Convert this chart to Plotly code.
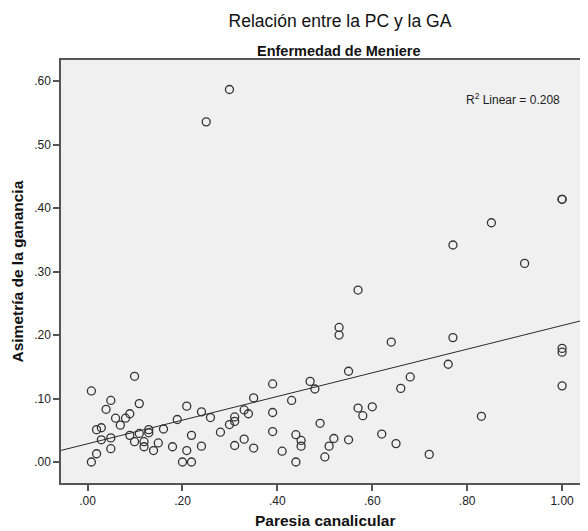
import numpy as np
import plotly.graph_objects as go

# Paresia canalicular (x) and Asimetría de la ganancia (y)
pc = [0.250, 0.299, 1.000, 1.000, 0.851, 0.770, 0.921, 0.570, 0.530, 0.530, 0.640,
      0.770, 1.000, 1.000, 0.760, 0.550, 0.680, 0.469, 0.479, 0.660, 1.000, 0.570,
      0.600, 0.580, 0.830, 0.490, 0.620, 0.519, 0.550, 0.509, 0.650, 0.500, 0.720,
      0.008, 0.099, 0.049, 0.109, 0.039, 0.089, 0.059, 0.080, 0.069, 0.029, 0.019,
      0.029, 0.049, 0.049, 0.019, 0.008, 0.089, 0.099, 0.109, 0.119, 0.119, 0.129,
      0.129, 0.139, 0.149, 0.160, 0.179, 0.189, 0.209, 0.209, 0.219, 0.200, 0.219,
      0.240, 0.240, 0.259, 0.280, 0.299, 0.310, 0.310, 0.310, 0.330, 0.330, 0.339,
      0.350, 0.350, 0.390, 0.390, 0.390, 0.410, 0.430, 0.439, 0.450, 0.450, 0.439]
ga = [0.536, 0.587, 0.414, 0.414, 0.377, 0.342, 0.313, 0.271, 0.212, 0.200, 0.189,
      0.196, 0.179, 0.173, 0.154, 0.143, 0.134, 0.127, 0.115, 0.116, 0.120, 0.085,
      0.087, 0.073, 0.072, 0.061, 0.044, 0.037, 0.035, 0.025, 0.029, 0.008, 0.012,
      0.112, 0.135, 0.097, 0.092, 0.083, 0.076, 0.069, 0.069, 0.058, 0.054, 0.051,
      0.035, 0.038, 0.021, 0.013, 0.000, 0.042, 0.032, 0.045, 0.032, 0.024, 0.051,
      0.046, 0.018, 0.030, 0.052, 0.024, 0.067, 0.088, 0.018, 0.042, 0.000, 0.000,
      0.079, 0.025, 0.070, 0.047, 0.059, 0.071, 0.064, 0.026, 0.082, 0.036, 0.076,
      0.101, 0.022, 0.123, 0.078, 0.048, 0.017, 0.097, 0.043, 0.034, 0.025, 0.000]

# Linear fit
fit_intercept = 0.0287
fit_slope = 0.1864
r2_text = "R<sup>2</sup> Linear = 0.208"

x_ticks = [0.0, 0.2, 0.4, 0.6, 0.8, 1.0]
x_ticktext = [".00", ".20", ".40", ".60", ".80", "1.00"]
y_ticks = [0.0, 0.1, 0.2, 0.3, 0.4, 0.5, 0.6]
y_ticktext = [".00", ".10", ".20", ".30", ".40", ".50", ".60"]

x_range = [-0.056, 1.0546]
y_range = [-0.0331, 0.6335]

FONT = "Arial, Liberation Sans, sans-serif"

fig = go.Figure()
line_x = np.array(x_range)
fig.add_trace(go.Scatter(x=line_x, y=fit_intercept + fit_slope * line_x, mode="lines",
                         line=dict(color="#2a2a2a", width=1), hoverinfo="skip",
                         showlegend=False))
fig.add_trace(go.Scatter(x=pc, y=ga, mode="markers",
                         marker=dict(symbol="circle-open", size=8,
                                     line=dict(color="#333333", width=1.3),
                                     color="#333333"),
                         showlegend=False))

# the page body adds an 8px margin, so the figure is sized to fit the 588x531 window
fig.update_layout(
    width=580, height=523,
    margin=dict(l=53, r=0, t=52, b=48),
    paper_bgcolor="white", plot_bgcolor="#F0F0F0",
    font=dict(family=FONT, color="#222222", size=12),
    title=dict(text="Relación entre la PC y la GA", x=0.5724, xref="container",
               xanchor="center", y=0.9757, yref="container", yanchor="middle",
               font=dict(family=FONT, size=17.5, color="#111111")),
    showlegend=False,
)
fig.update_xaxes(range=x_range, tickvals=x_ticks, ticktext=x_ticktext,
                 showgrid=False, zeroline=False, showline=True, linecolor="#555555",
                 linewidth=1.5, mirror=True, ticks="outside", ticklen=6,
                 tickcolor="#555555", tickwidth=1.5,
                 tickfont=dict(family=FONT, size=12, color="#222222"))
fig.update_yaxes(range=y_range, tickvals=y_ticks, ticktext=y_ticktext,
                 showgrid=False, zeroline=False, showline=True, linecolor="#555555",
                 linewidth=1.5, mirror=False, ticks="outside", ticklen=6,
                 tickcolor="#555555", tickwidth=1.5,
                 tickfont=dict(family=FONT, size=12, color="#222222"))

fig.add_annotation(text="Enfermedad de Meniere", xref="paper", yref="paper",
                   x=0.527, y=1.022, xanchor="center", yanchor="middle", showarrow=False,
                   font=dict(family=FONT, size=14.5, color="#111111", weight="bold"))
fig.add_annotation(text="Paresia canalicular", xref="paper", yref="paper",
                   x=0.5, y=-0.089, xanchor="center", yanchor="middle", showarrow=False,
                   font=dict(family=FONT, size=15.5, color="#111111", weight="bold"))
fig.add_annotation(text="Asimetría de la ganancia", xref="paper", yref="paper",
                   x=-0.0816, y=0.5, xanchor="center", yanchor="middle", showarrow=False,
                   textangle=-90,
                   font=dict(family=FONT, size=15.5, color="#111111", weight="bold"))
fig.add_annotation(text=r2_text, xref="x", yref="y", x=1.0, y=0.5717,
                   xanchor="right", yanchor="middle", showarrow=False,
                   font=dict(family=FONT, size=12, color="#222222"))

fig.write_html("out.html")
